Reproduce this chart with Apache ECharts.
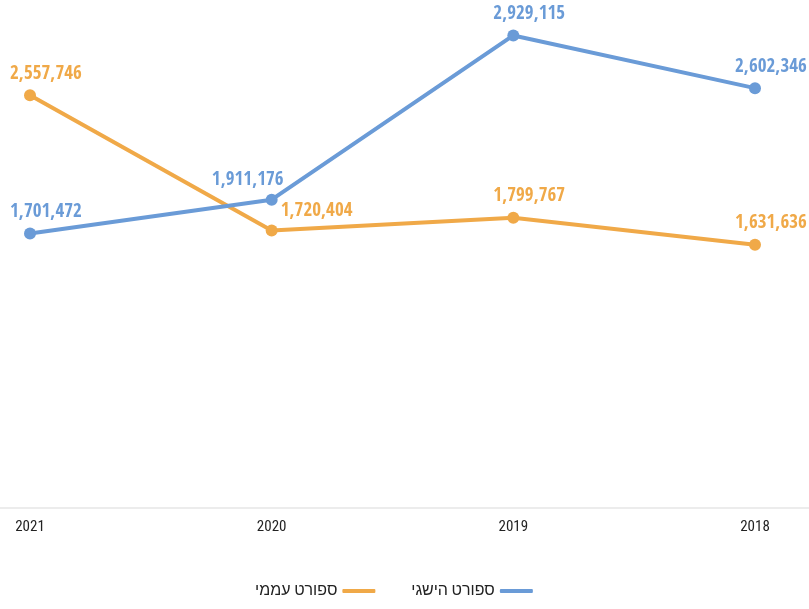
<!DOCTYPE html>
<html>
<head>
<meta charset="utf-8">
<script src="https://cdn.jsdelivr.net/npm/echarts@6/dist/echarts.min.js"></script>
<style>
  html, body { margin: 0; padding: 0; background: #fff; }
  #chart { width: 809px; height: 609px; }
</style>
</head>
<body>
<div id="chart"></div>
<script>
// data
const years = ['2021', '2020', '2019', '2018'];
const popularSport = [2557746, 1720404, 1799767, 1631636];   // ספורט עממי
const competitiveSport = [1701472, 1911176, 2929115, 2602346]; // ספורט הישגי
const seriesNames = ['ספורט עממי', 'ספורט הישגי'];

const ORANGE = '#f0a948';
const BLUE = '#6a9bd7';
const numFont = '"Open Sans Condensed", "Roboto Condensed", sans-serif';
const textFont = '"Roboto Condensed", "Noto Sans", sans-serif';

const fmt = v => v.toLocaleString('en-US');

// label nudges so the numbers don't collide (left aligned unless noted)
function labelFor(i, which) {
  if (which === 'blue' && i === 1) return { align: 'right', offset: [12, 1] };
  if (which === 'orange' && i === 1) return { align: 'left', offset: [9, 1] };
  return { align: 'left', offset: [-20, -1] };
}

function buildData(values, which) {
  return values.map((v, i) => ({ value: v, label: labelFor(i, which) }));
}

const chart = echarts.init(document.getElementById('chart'));
chart.setOption({
  animation: false,
  legend: {
    bottom: 5,
    left: 250,
    align: 'right',
    icon: 'roundRect',
    itemWidth: 33,
    itemHeight: 4,
    itemGap: 36,
    data: seriesNames,
    textStyle: { fontFamily: textFont, fontSize: 16, color: '#222' }
  },
  grid: [
    { left: 30, right: 54, top: 24, bottom: 101 },
    { left: 0, right: 0, top: 24, bottom: 101 }
  ],
  xAxis: [
    {
      type: 'category',
      gridIndex: 0,
      data: years,
      boundaryGap: false,
      axisLine: { show: false },
      axisTick: { show: false },
      axisLabel: { fontFamily: textFont, fontSize: 15, color: '#222', margin: 12 }
    },
    {
      type: 'value',
      gridIndex: 1,
      axisLine: { show: true, lineStyle: { color: '#e6e6e6', width: 1.5 } },
      axisTick: { show: false },
      axisLabel: { show: false },
      splitLine: { show: false }
    }
  ],
  yAxis: [
    { type: 'value', gridIndex: 0, min: 0, max: 3000000, show: false },
    { type: 'value', gridIndex: 1, show: false }
  ],
  series: [
    {
      name: seriesNames[0],
      type: 'line',
      data: buildData(popularSport, 'orange'),
      color: ORANGE,
      lineStyle: { width: 4 },
      symbol: 'circle',
      symbolSize: 12,
      label: {
        show: true,
        position: 'top',
        formatter: p => fmt(p.value),
        color: ORANGE,
        fontFamily: numFont,
        fontWeight: 'bold',
        fontSize: 19
      }
    },
    {
      name: seriesNames[1],
      type: 'line',
      data: buildData(competitiveSport, 'blue'),
      color: BLUE,
      lineStyle: { width: 4 },
      symbol: 'circle',
      symbolSize: 12,
      label: {
        show: true,
        position: 'top',
        formatter: p => fmt(p.value),
        color: BLUE,
        fontFamily: numFont,
        fontWeight: 'bold',
        fontSize: 19
      }
    }
  ]
});
</script>
</body>
</html>
